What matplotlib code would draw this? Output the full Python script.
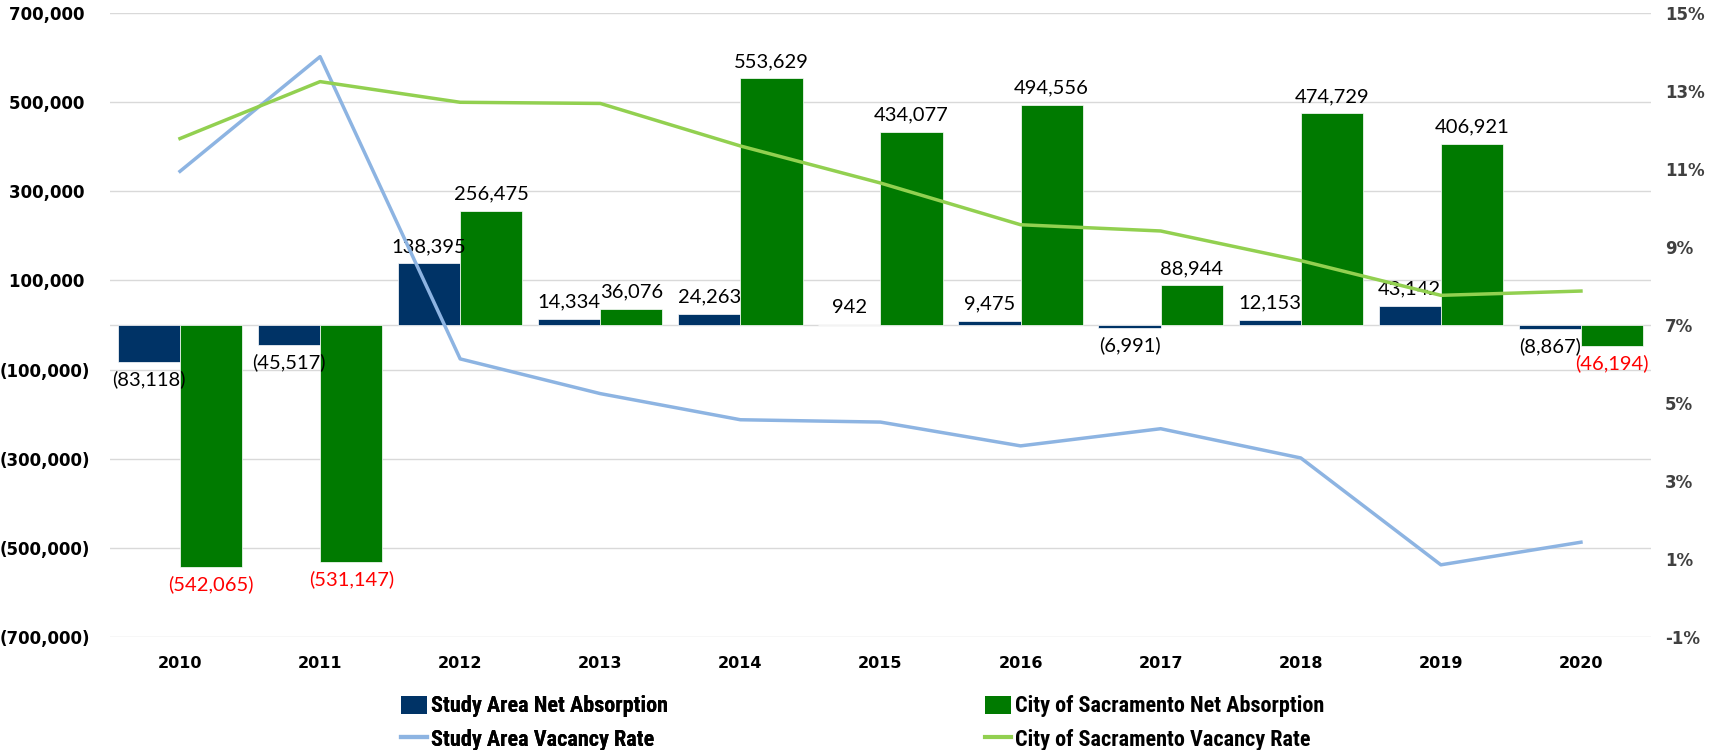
import matplotlib
matplotlib.use("Agg")
import matplotlib.pyplot as plt
from matplotlib.patches import Patch
from matplotlib.lines import Line2D
from matplotlib import font_manager
import numpy as np

years = ["2010", "2011", "2012", "2013", "2014", "2015", "2016", "2017", "2018", "2019", "2020"]
study_abs = [-83118, -45517, 138395, 14334, 24263, 942, 9475, -6991, 12153, 43142, -8867]
city_abs = [-542065, -531147, 256475, 36076, 553629, 434077, 494556, 88944, 474729, 406921, -46194]
study_vac = [10.94, 13.88, 6.13, 5.24, 4.57, 4.51, 3.90, 4.34, 3.59, 0.85, 1.43]
city_vac = [11.78, 13.24, 12.71, 12.68, 11.59, 10.64, 9.57, 9.41, 8.65, 7.76, 7.87]
left_ticks = [-700000, -500000, -300000, -100000, 100000, 300000, 500000, 700000]
right_ticks = [-1, 1, 3, 5, 7, 9, 11, 13, 15]
legend_labels = ["Study Area Net Absorption", "Study Area Vacancy Rate",
                 "City of Sacramento Net Absorption", "City of Sacramento Vacancy Rate"]

NAVY = "#003366"
GREEN = "#007A00"
LBLUE = "#8DB4E2"
LGREEN = "#92D050"

available = {f.name for f in font_manager.fontManager.ttflist}
narrow_candidates = [("Liberation Sans Narrow", 16), ("Roboto Condensed", 16),
                     ("Open Sans Condensed", 16), ("Roboto", 13.5)]
leg_family, leg_size = "DejaVu Sans", 12
for name, size in narrow_candidates:
    if name in available:
        leg_family, leg_size = name, size
        break

fig = plt.figure(figsize=(17.1, 7.5), dpi=100)
ax = fig.add_axes([0.0643, 0.1507, 0.9012, 0.832])
ax2 = ax.twinx()

x = np.arange(len(years))
w = 0.444
ax.bar(x - w / 2, study_abs, w, color=NAVY, edgecolor="white", linewidth=0.5, zorder=2)
ax.bar(x + w / 2, city_abs, w, color=GREEN, edgecolor="white", linewidth=0.5, zorder=2)

ax.set_ylim(-700000, 700000)
ax.set_xlim(-0.5, len(years) - 0.5)
ax.set_yticks(left_ticks)
ax.set_yticklabels([f"({abs(v):,})" if v < 0 else f"{v:,} " for v in left_ticks])
ax.set_xticks(x)
ax.set_xticklabels(years)
ax.grid(axis="y", color="#D9D9D9", linewidth=1, zorder=0)
ax.axhline(0, color="#D9D9D9", linewidth=1, zorder=1)
ax.set_axisbelow(True)
for s in ax.spines.values():
    s.set_visible(False)
for s in ax2.spines.values():
    s.set_visible(False)
ax.tick_params(axis="both", length=0)
ax.tick_params(axis="y", pad=14.5)
ax.tick_params(axis="x", pad=14)
for lab in ax.get_yticklabels():
    lab.set_fontfamily("DejaVu Sans")
    lab.set_fontweight("bold")
    lab.set_fontsize(12)
for lab in ax.get_xticklabels():
    lab.set_fontfamily("DejaVu Sans")
    lab.set_fontweight("bold")
    lab.set_fontsize(11.5)

ax2.set_ylim(-1, 15)
ax2.set_yticks(right_ticks)
ax2.set_yticklabels([f"{v}%" for v in right_ticks])
ax2.tick_params(axis="y", length=0, pad=10)
for lab in ax2.get_yticklabels():
    lab.set_fontfamily("DejaVu Sans")
    lab.set_fontweight("bold")
    lab.set_fontsize(12)
    lab.set_color("#404040")

ax2.plot(x, study_vac, color=LBLUE, linewidth=2.5, zorder=3)
ax2.plot(x, city_vac, color=LGREEN, linewidth=2.5, zorder=3)

def fmt(v):
    return f"({abs(v):,})" if v < 0 else f"{v:,}"

lab_font = dict(fontfamily="Lato", fontsize=14.5)
for xi, v in zip(x, study_abs):
    if v >= 0:
        ax.annotate(fmt(v), (xi - w / 2, v), xytext=(0, 6), textcoords="offset points",
                    ha="center", va="bottom", color="black", **lab_font)
    else:
        ax.annotate(fmt(v), (xi - w / 2, v), xytext=(0, -6), textcoords="offset points",
                    ha="center", va="top", color="black", **lab_font)
for xi, v in zip(x, city_abs):
    if v >= 0:
        ax.annotate(fmt(v), (xi + w / 2, v), xytext=(0, 6), textcoords="offset points",
                    ha="center", va="bottom", color="black", **lab_font)
    else:
        ax.annotate(fmt(v), (xi + w / 2, v), xytext=(0, -6), textcoords="offset points",
                    ha="center", va="top", color="red", **lab_font)

ax.set_zorder(ax2.get_zorder() - 1)
ax.patch.set_visible(False)

prop = dict(family=leg_family, weight="bold", size=leg_size)
h1 = [Patch(facecolor=NAVY), Line2D([0], [0], color=LBLUE, linewidth=3)]
h2 = [Patch(facecolor=GREEN), Line2D([0], [0], color=LGREEN, linewidth=3)]
common = dict(loc="center left", frameon=False, prop=prop, borderpad=0, borderaxespad=0,
              handlelength=1.15, handleheight=0.85, handletextpad=0.2, labelspacing=0.5)
leg1 = fig.legend(h1, legend_labels[:2], bbox_to_anchor=(0.2346, 0.036), **common)
fig.add_artist(leg1)
leg2 = fig.legend(h2, legend_labels[2:], bbox_to_anchor=(0.576, 0.036), **common)

fig.savefig("out.png", dpi=100)
